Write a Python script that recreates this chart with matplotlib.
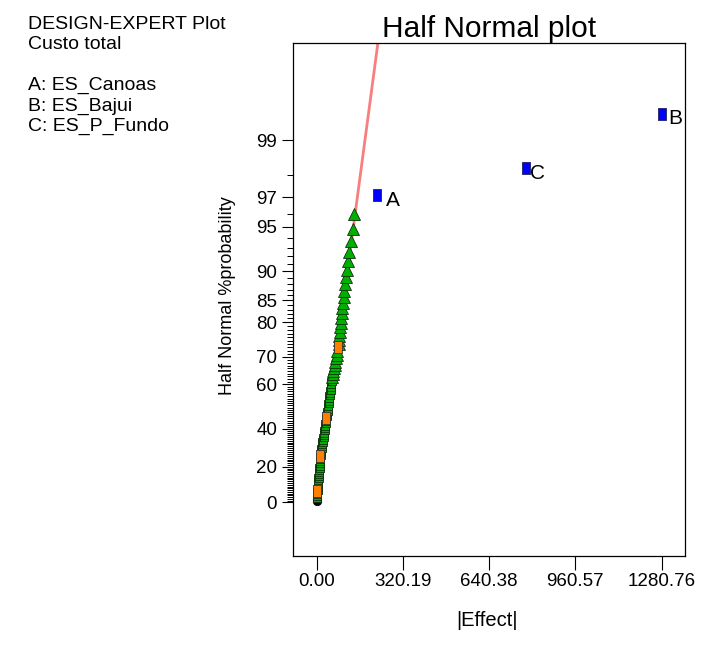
import matplotlib
matplotlib.use("Agg")
import matplotlib.pyplot as plt
import numpy as np
from statistics import NormalDist

plt.rcParams['font.family'] = ['Liberation Sans', 'DejaVu Sans']

# small (non significant) effects, in increasing order
efeitos = [0.2, 0.7, 1.2, 1.6, 2.1, 2.6, 3.2, 3.9, 4.5, 5.1,
           5.8, 6.4, 7.0, 7.7, 8.4, 9.0, 9.7, 10.4, 11.0, 11.7,
           12.4, 13.0, 13.7, 14.9, 16.2, 17.5, 18.8, 20.1, 21.4, 22.7,
           24.0, 25.3, 26.7, 28.0, 29.4, 30.7, 32.1, 33.5, 34.9, 36.3,
           37.5, 38.8, 40.2, 41.5, 42.9, 44.2, 45.6, 47.0, 48.5, 49.9,
           51.4, 52.9, 54.4, 56.0, 58.5, 60.0, 61.8, 64.5, 67.5, 69.7,
           71.5, 73.8, 76.5, 79.5, 81.0, 82.0, 83.0, 85.0, 87.0, 89.0,
           90.5, 92.8, 94.8, 97.0, 99.5, 103.0, 106.5, 108.5, 113.0, 117.5,
           121.5, 128.5, 134.5, 139.0]
# ranks (1-based) of the special markers among the small effects
rank_circulo = [1, 2]
rank_laranja = [6, 23, 40, 64]
rank_triangulo_inicio = 55

# significant effects
fatores = ['A', 'C', 'B']
efeitos_sig = [222.7, 775.8, 1280.76]

ytick_pct = [0, 20, 40, 60, 70, 80, 85, 90, 95, 97, 99]
texto_topo = ["DESIGN-EXPERT Plot", "Custo total", "",
              "A: ES_Canoas", "B: ES_Bajui", "C: ES_P_Fundo"]

inclinacao = 69.5  # |effect| per normal score of the reference line

nd = NormalDist()


def pct_to_z(p):
    return nd.inv_cdf(0.5 + p / 200.0)


n = len(efeitos) + len(efeitos_sig)
z = [pct_to_z(100.0 * (i - 0.5) / n) for i in range(1, n + 1)]
z_small = z[:len(efeitos)]
z_sig = z[len(efeitos):]

fig = plt.figure(figsize=(7.01, 6.69), dpi=100)
ax = fig.add_axes([0.418, 0.169, 0.559, 0.7667])

rect = [(-0.75, -1), (0.75, -1), (0.75, 1), (-0.75, 1), (-0.75, -1)]

# reference line through origin
zz = np.array([0, 4.0])
ax.plot(inclinacao * zz, zz, color='#f77f7f', lw=2, zorder=1)

for i, (e, zi) in enumerate(zip(efeitos, z_small), start=1):
    if i in rank_circulo:
        ax.plot(e, zi, 'o', ms=6, mfc='black', mec='black', mew=0.6, zorder=2)
    elif i in rank_laranja:
        ax.plot(e, zi, marker=rect, ms=8, mfc='#ff8000', mec='#333333', mew=0.6, zorder=4)
    elif i >= rank_triangulo_inicio:
        ax.plot(e, zi, '^', ms=8.5, mfc='#00b000', mec='#103010', mew=0.6, zorder=3)
    else:
        ax.plot(e, zi, marker=rect, ms=7, mfc='#00b000', mec='#103010', mew=0.6, zorder=3)

desloc = [(7, -4), (3, -4), (5, -3)]
for nome, e, zi, d in zip(fatores, efeitos_sig, z_sig, desloc):
    ax.plot(e, zi, marker=rect, ms=8.5, mfc='#0000ff', mec='#202060', mew=0.6, zorder=4)
    ax.annotate(nome, (e, zi), xytext=d, textcoords='offset points',
                fontsize=15, ha='left', va='center')

ax.set_xlim(-88, 1367)
ax.set_ylim(-0.3805, 3.268)

xt = np.linspace(0, max(efeitos_sig), 5)
ax.set_xticks(xt)
ax.set_xticklabels(['%.2f' % v for v in xt])

ax.set_yticks([pct_to_z(p) for p in ytick_pct])
ax.set_yticklabels([str(p) for p in ytick_pct])
minor = [p for p in range(1, 99) if p not in ytick_pct]
ax.set_yticks([pct_to_z(p) for p in minor], minor=True)

ax.tick_params(axis='y', which='major', length=8, width=0.8, labelsize=13.5, pad=3.5)
ax.tick_params(axis='y', which='minor', length=4.5, width=0.7)
ax.tick_params(axis='x', which='major', length=10, width=0.8, labelsize=13.5, pad=2)
for s in ax.spines.values():
    s.set_linewidth(0.9)

ax.set_title("Half Normal plot", fontsize=21.5, pad=4.5)

fig.text(227 / 701, 1 - 296 / 669, "Half Normal %probability", rotation=90,
         ha='center', va='center', fontsize=13)
fig.text(487 / 701, 1 - 621 / 669, "|Effect|", ha='center', va='center', fontsize=14.5)

for k, linha in enumerate(texto_topo):
    fig.text(28 / 701, 1 - (29 + 20.4 * k) / 669, linha, fontsize=14, va='baseline')

fig.savefig("out.png", dpi=100)
